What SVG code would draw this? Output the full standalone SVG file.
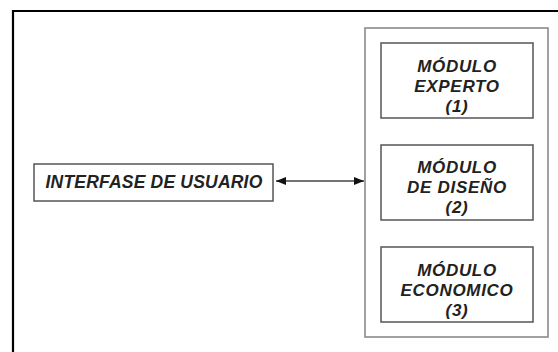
<svg xmlns="http://www.w3.org/2000/svg" width="558" height="352" viewBox="0 0 558 352">
  <style>
    .box { fill: #ffffff; stroke: #555555; stroke-width: 1.5; }
    .cont { fill: #ffffff; stroke: #8a8a8a; stroke-width: 1.6; }
    .lbl { font-family: "Liberation Sans", Arial, sans-serif; font-weight: bold; font-style: italic; font-size: 17px; letter-spacing: 0.7px; fill: #222222; text-anchor: middle; }
    .conn { stroke: #444444; stroke-width: 1.3; fill: none; }
  </style>
  <defs>
    <marker id="ah" viewBox="0 0 10 8" refX="10" refY="4" markerWidth="10" markerHeight="8" markerUnits="userSpaceOnUse" orient="auto-start-reverse">
      <path d="M0,0 L10,4 L0,8 Z" fill="#111111"/>
    </marker>
  </defs>
  <rect x="0" y="0" width="558" height="352" fill="#ffffff"/>
  <path d="M13,352 V11 H558" fill="none" stroke="#000000" stroke-width="2.2"/>

  <g id="interfase">
    <rect class="box" x="34" y="164" width="239" height="37"/>
    <text class="lbl" x="154" y="188" style="font-size:17.5px;letter-spacing:0.2px">INTERFASE DE USUARIO</text>
  </g>

  <g id="sistema">
    <rect class="cont" x="365" y="28" width="183" height="309"/>
  </g>

  <g id="modulo-experto">
    <rect class="box" x="381" y="43" width="152" height="75"/>
    <text class="lbl" x="457" y="72">MÓDULO</text>
    <text class="lbl" x="457" y="92">EXPERTO</text>
    <text class="lbl" x="457" y="112">(1)</text>
  </g>

  <g id="modulo-diseno">
    <rect class="box" x="381" y="145" width="152" height="75"/>
    <text class="lbl" x="457" y="173">MÓDULO</text>
    <text class="lbl" x="457" y="193">DE DISEÑO</text>
    <text class="lbl" x="457" y="213">(2)</text>
  </g>

  <g id="modulo-economico">
    <rect class="box" x="381" y="247" width="152" height="75"/>
    <text class="lbl" x="457" y="276">MÓDULO</text>
    <text class="lbl" x="457" y="296">ECONOMICO</text>
    <text class="lbl" x="457" y="316">(3)</text>
  </g>

  <g id="connectors">
    <line class="conn" x1="276" y1="181" x2="364" y2="181" marker-start="url(#ah)" marker-end="url(#ah)"/>
  </g>
</svg>
